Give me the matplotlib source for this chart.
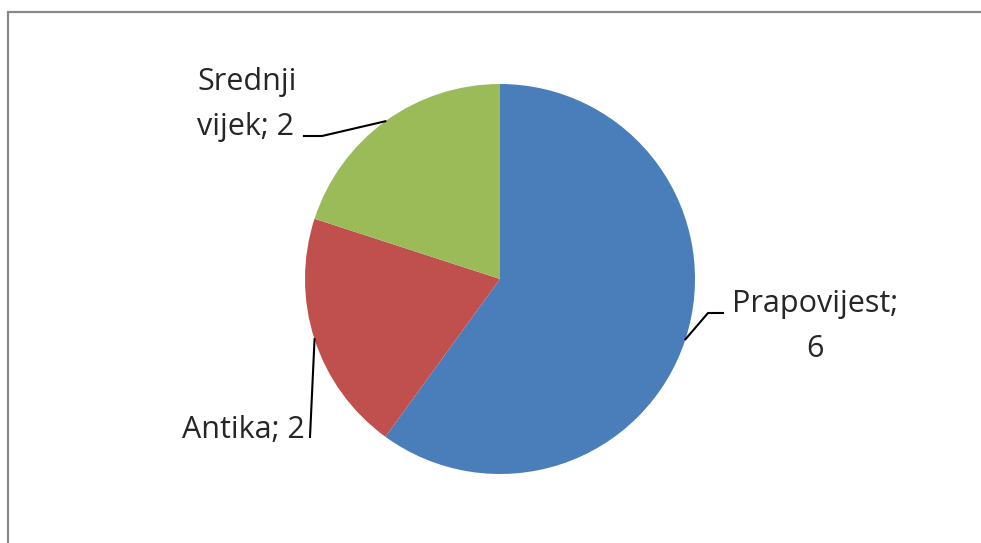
import numpy as np
import matplotlib.pyplot as plt

labels = ['Prapovijest', 'Antika', 'Srednji vijek']
values = [6, 2, 2]
colors = ['#4A7EBB', '#C0504D', '#9BBB59']

W, H = 981, 543
fig = plt.figure(figsize=(W / 100, H / 100), dpi=100)
ax = fig.add_axes([0, 0, 1, 1])

cx, cy, r = 500, H - 279, 195
wedges, _ = ax.pie(values, colors=colors, startangle=90, counterclock=False,
                   center=(cx, cy), radius=r, wedgeprops=dict(linewidth=0))
ax.set_xlim(0, W)
ax.set_ylim(0, H)
ax.axis('off')

# okvir grafikona
ax.plot([8, 8, W], [0, H - 12, H - 12], color='#898989', lw=1.6,
        solid_joinstyle='miter', clip_on=False)

# točke na rubu kriški (sredina kuta)
edge = []
for w in wedges:
    a = np.deg2rad((w.theta1 + w.theta2) / 2)
    edge.append((cx + r * np.cos(a), cy + r * np.sin(a)))

font = dict(family=['Open Sans', 'DejaVu Sans'], fontsize=22, color='#262626')
lc = dict(color='black', lw=1.5)

# Prapovijest (baseline zadnjeg retka)
ex, ey = edge[0]
ax.plot([ex, 708, 723], [ey, H - 313, H - 313], **lc)
ax.text(815, H - 357, f'{labels[0]};\n{values[0]}', ha='center', va='baseline',
        linespacing=1.66, **font)

# Antika
ex, ey = edge[1]
ax.plot([ex, 310], [ey, H - 437], **lc)
ax.text(305, H - 438, f'{labels[1]}; {values[1]}', ha='right', va='baseline', **font)

# Srednji vijek
ex, ey = edge[2]
ax.plot([ex, 322, 304], [ey, H - 136, H - 136], **lc)
a, b = labels[2].split(' ')
ax.text(197, H - 135, f'{a}\n{b}; {values[2]}', ha='left', va='baseline',
        linespacing=1.66, **font)

fig.savefig('out.png', dpi=100)
